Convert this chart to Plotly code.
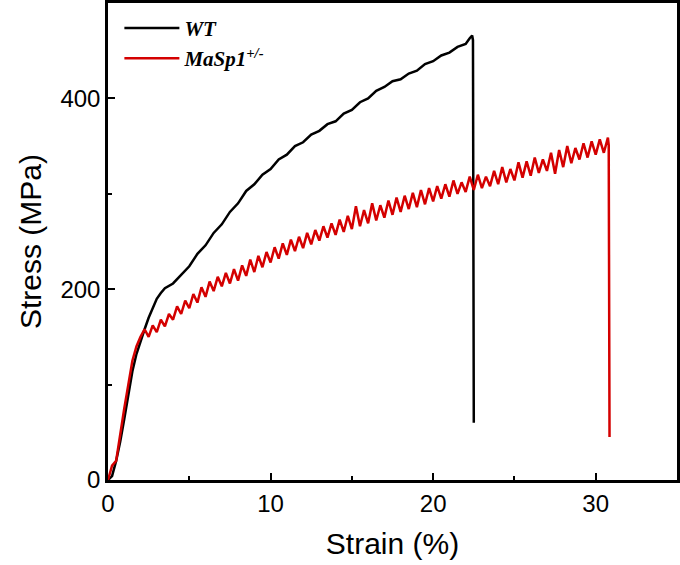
import plotly.graph_objects as go

wt_strain = [0, 0.25, 0.5, 0.75, 1.0, 1.25, 1.5, 1.75, 2.0, 2.25, 2.5, 2.75, 3.0, 3.25, 3.5,
             4.0, 4.5, 5.0, 5.5, 6.0, 6.5, 7.0, 7.5, 8.0, 8.5, 9.0, 9.5, 10.0, 10.5, 11.0,
             11.5, 12.0, 12.5, 13.0, 13.5, 14.0, 14.5, 15.0, 15.5, 16.0, 16.5, 17.0, 17.5,
             18.0, 18.5, 19.0, 19.5, 20.0, 20.5, 21.0, 21.5, 22.0, 22.25, 22.4, 22.45, 22.5]
wt_stress = [0, 4, 20, 40, 64, 90, 114, 132, 146, 158, 170, 181, 190, 196, 201,
             206, 215, 224, 237, 246, 259, 268, 281, 290, 303, 310, 320, 326, 336, 341,
             350, 354, 362, 366, 373, 376, 384, 388, 396, 400, 408, 412, 418, 420, 426,
             429, 436, 439, 445, 448, 454, 457, 463, 466, 461, 60]

mut_strain = [0, 0.25, 0.5, 0.75, 1.0, 1.25, 1.5, 1.75, 2.0,
              2.25, 2.5, 2.75, 3.0, 3.25, 3.5, 3.75, 4.0, 4.25, 4.5, 4.75, 5.0,
              5.25, 5.5, 5.75, 6.0, 6.25, 6.5, 6.75, 7.0, 7.25, 7.5, 7.75, 8.0,
              8.25, 8.5, 8.75, 9.0, 9.25, 9.5, 9.75, 10.0, 10.25, 10.5, 10.75, 11.0,
              11.25, 11.5, 11.75, 12.0, 12.25, 12.5, 12.75, 13.0, 13.25, 13.5, 13.75, 14.0,
              14.25, 14.5, 14.75, 15.0, 15.25, 15.5, 15.75, 16.0, 16.25, 16.5, 16.75, 17.0,
              17.25, 17.5, 17.75, 18.0, 18.25, 18.5, 18.75, 19.0, 19.25, 19.5, 19.75, 20.0,
              20.25, 20.5, 20.75, 21.0, 21.25, 21.5, 21.75, 22.0, 22.25, 22.5, 22.75, 23.0,
              23.25, 23.5, 23.75, 24.0, 24.25, 24.5, 24.75, 25.0, 25.25, 25.5, 25.75, 26.0,
              26.25, 26.5, 26.75, 27.0, 27.25, 27.5, 27.75, 28.0, 28.25, 28.5, 28.75, 29.0,
              29.25, 29.5, 29.75, 30.0, 30.25, 30.5, 30.75, 30.8, 30.85]
mut_stress = [0, 15, 20, 50, 75, 100, 125, 140, 150,
              158, 150, 162, 155, 168, 161, 174, 168, 182, 174, 188, 180,
              195, 186, 202, 192, 208, 198, 213, 203, 217, 206, 221, 209,
              225, 214, 231, 218, 235, 223, 239, 228, 244, 232, 248, 236,
              252, 240, 255, 243, 259, 247, 262, 251, 266, 254, 269, 257,
              273, 260, 277, 263, 287, 266, 283, 269, 290, 272, 288, 275,
              293, 278, 296, 281, 298, 284, 301, 286, 304, 289, 306, 292,
              308, 295, 310, 297, 314, 300, 312, 302, 318, 304, 320, 306,
              318, 308, 324, 310, 328, 312, 326, 314, 333, 317, 334, 319,
              338, 322, 336, 324, 343, 321, 346, 328, 350, 332, 348, 336,
              353, 338, 355, 341, 357, 343, 359, 351, 45]

x_ticks = [0, 10, 20, 30]
y_ticks = [0, 200, 400]

fig = go.Figure()
fig.add_trace(go.Scatter(x=wt_strain, y=wt_stress, mode="lines",
                         name="<b><i>WT</i></b>",
                         line=dict(color="#000000", width=2.5)))
fig.add_trace(go.Scatter(x=mut_strain, y=mut_stress, mode="lines",
                         name="<b><i>MaSp1<sup>+/-</sup></i></b>",
                         line=dict(color="#d40000", width=2.5)))

axis_common = dict(showline=True, linecolor="black", linewidth=2.5, mirror=True,
                   showgrid=False, zeroline=False, ticks="inside", ticklen=7,
                   tickwidth=2, tickcolor="black", automargin=False,
                   tickfont=dict(family="Liberation Sans, Arial", size=24, color="black"),
                   minor=dict(ticks="inside", ticklen=4, tickwidth=2, tickcolor="black"))

fig.update_xaxes(range=[0, 35], tickvals=x_ticks, minor_dtick=5,
                 title=dict(text="Strain (%)", standoff=18,
                            font=dict(family="Liberation Sans, Arial", size=30, color="black")),
                 **axis_common)
fig.update_yaxes(range=[0, 500], tickvals=y_ticks, minor_dtick=100,
                 title=dict(text="Stress (MPa)", standoff=10,
                            font=dict(family="Liberation Sans, Arial", size=30, color="black")),
                 **axis_common)

fig.update_layout(
    width=680, height=565,
    margin=dict(l=108, r=3, t=3, b=85),
    plot_bgcolor="white", paper_bgcolor="white",
    legend=dict(x=0.02, y=0.99, xanchor="left", yanchor="top",
                bgcolor="rgba(0,0,0,0)", borderwidth=0,
                font=dict(family="Liberation Serif, Times New Roman", size=21, color="black"),
                tracegroupgap=0, itemwidth=55),
    showlegend=True,
)

fig.write_html("out.html", config={"displayModeBar": False},
               post_script="document.body.style.margin='0';document.body.style.overflow='hidden';")
